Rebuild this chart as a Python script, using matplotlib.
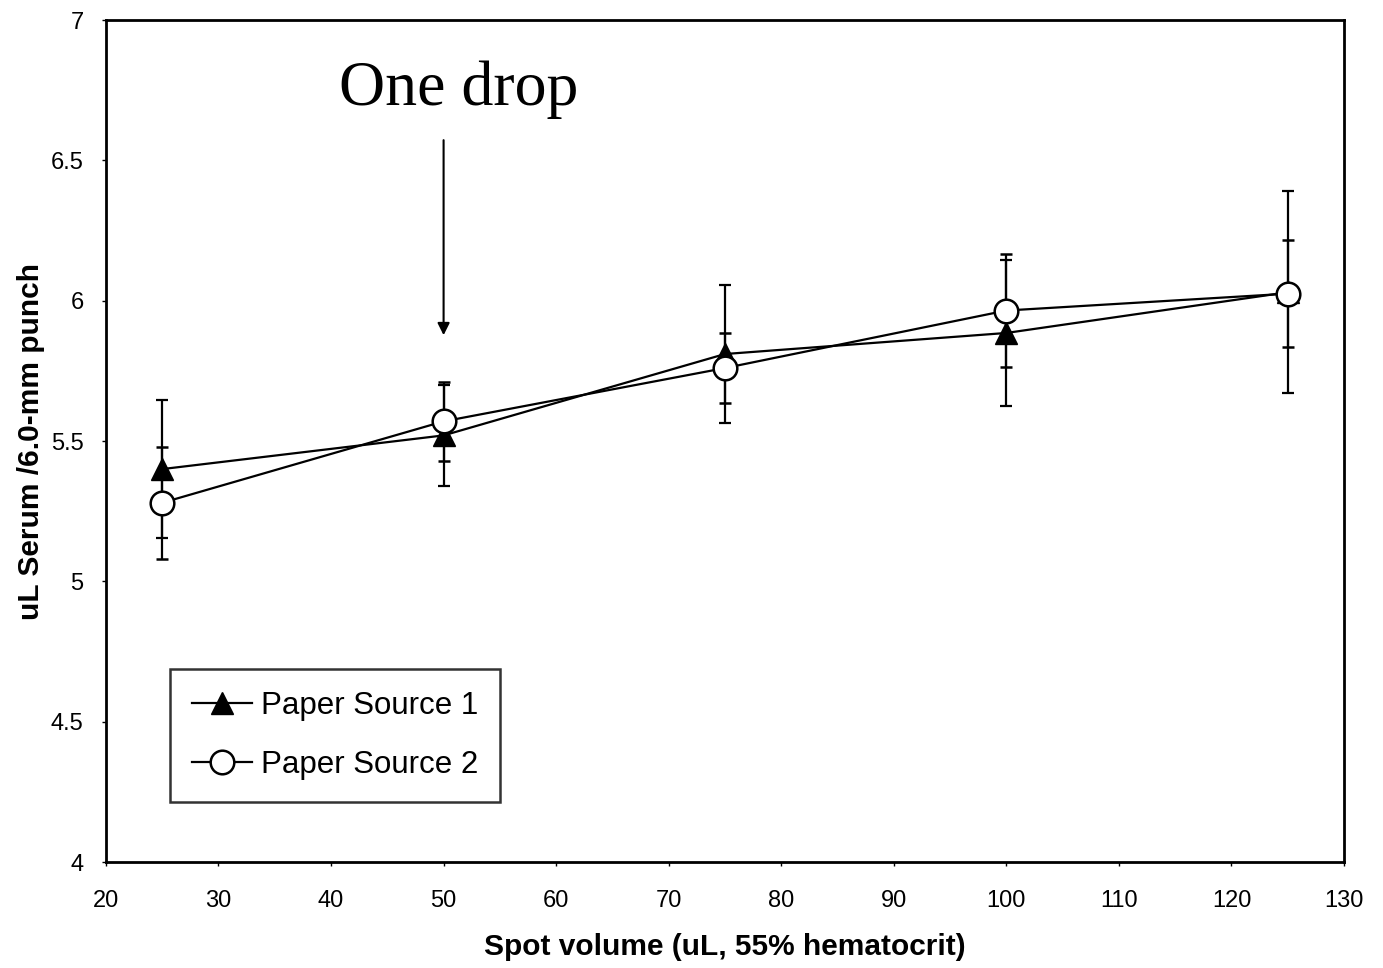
import matplotlib.pyplot as plt
from matplotlib.lines import Line2D

# data
volume = [25, 50, 75, 100, 125]
source1 = [5.40, 5.52, 5.81, 5.885, 6.03]
source1_err = [0.245, 0.18, 0.245, 0.26, 0.36]
source2 = [5.28, 5.57, 5.76, 5.965, 6.025]
source2_err = [0.20, 0.14, 0.125, 0.20, 0.19]

x_ticks = [20, 30, 40, 50, 60, 70, 80, 90, 100, 110, 120, 130]
y_ticks = [4, 4.5, 5, 5.5, 6, 6.5, 7]
y_labels = ["4", "4.5", "5", "5.5", "6", "6.5", "7"]

plt.rcParams["font.family"] = ["Liberation Sans", "DejaVu Sans"]

fig = plt.figure(figsize=(13.83, 9.68), dpi=100)
ax = fig.add_axes([0.0766, 0.1095, 0.8952, 0.8698])

ax.errorbar(volume, source1, yerr=source1_err, color="black", lw=1.6,
            marker="^", ms=16, mfc="black", mec="black",
            ecolor="black", elinewidth=1.6, capsize=4.5, capthick=1.6,
            zorder=3)
ax.errorbar(volume, source2, yerr=source2_err, color="black", lw=1.6,
            marker="o", ms=17, mfc="white", mec="black", mew=1.8,
            ecolor="black", elinewidth=1.6, capsize=4.5, capthick=1.6,
            zorder=4)

ax.set_xlim(20, 130)
ax.set_ylim(4, 7)
ax.set_xticks(x_ticks)
ax.set_yticks(y_ticks)
ax.set_yticklabels(y_labels)
ax.tick_params(axis="both", length=3, width=1, direction="out", labelsize=17)
ax.tick_params(axis="x", pad=17)
ax.tick_params(axis="y", pad=13)
for sp in ax.spines.values():
    sp.set_linewidth(2)

ax.set_xlabel("Spot volume (uL, 55% hematocrit)", fontsize=21.5, fontweight="bold", labelpad=15)
ax.set_ylabel("uL Serum /6.0-mm punch", fontsize=21.5, fontweight="bold")
ax.yaxis.set_label_coords(-0.049, 0.5)

handles = [
    Line2D([], [], color="black", lw=1.6, marker="^", ms=16, mfc="black", mec="black"),
    Line2D([], [], color="black", lw=1.6, marker="o", ms=17, mfc="white", mec="black", mew=1.8),
]
leg = ax.legend(handles, ["Paper Source 1", "Paper Source 2"],
                loc="lower left", bbox_to_anchor=(0.052, 0.071), fontsize=22.5,
                frameon=True, fancybox=False, edgecolor="black",
                handlelength=1.9, handletextpad=0.3, borderpad=0.7,
                labelspacing=0.95, borderaxespad=0)
leg.get_frame().set_linewidth(1.8)

ax.text(51.3, 6.75, "One drop", fontsize=46, family=["Liberation Serif", "DejaVu Serif"],
        ha="center", va="center")
ax.annotate("", xy=(50, 5.877), xytext=(50, 6.572),
            arrowprops=dict(arrowstyle="-|>", color="black", lw=1.5,
                            mutation_scale=18, shrinkA=0, shrinkB=0))

fig.savefig("out.png", dpi=100)
